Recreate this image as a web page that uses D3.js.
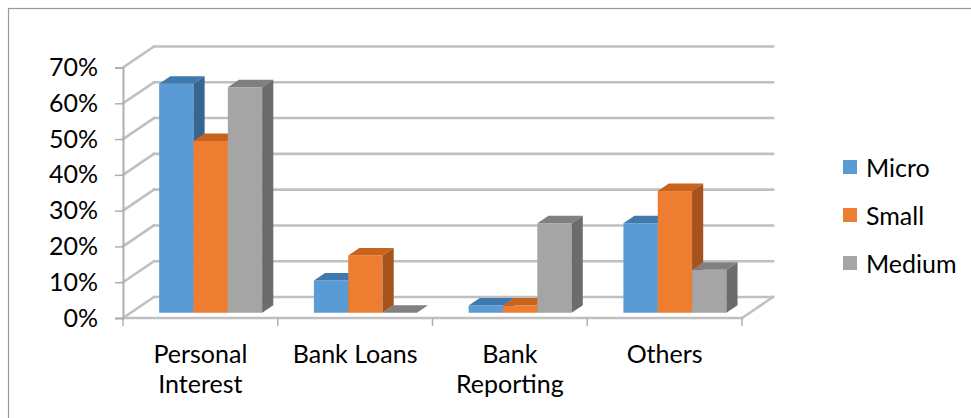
<!DOCTYPE html>
<html>
<head>
<meta charset="utf-8">
<script src="https://cdn.jsdelivr.net/npm/d3@7"></script>
<style>
  html, body { margin: 0; padding: 0; background: #fff; }
  svg { display: block; }
  text { font-family: Lato, "Open Sans", sans-serif; fill: #000; }
</style>
</head>
<body>
<svg id="chart" width="971" height="418"></svg>
<script>
// Survey shares by enterprise size
const categories = ["Personal Interest", "Bank Loans", "Bank Reporting", "Others"];
const categoryLines = [["Personal", "Interest"], ["Bank Loans"], ["Bank", "Reporting"], ["Others"]];
const seriesNames = ["Micro", "Small", "Medium"];
const micro  = [0.64, 0.09, 0.02, 0.25];
const small  = [0.48, 0.16, 0.02, 0.34];
const medium = [0.63, 0.00, 0.25, 0.12];
const yTicks = [0, 0.1, 0.2, 0.3, 0.4, 0.5, 0.6, 0.7];

const seriesValues = [micro, small, medium];
const faceColors = {
  Micro:  { front: "#5b9bd5", top: "#4079ad", side: "#386590" },
  Small:  { front: "#ed7d31", top: "#c8621c", side: "#a5531c" },
  Medium: { front: "#a5a5a5", top: "#808080", side: "#6c6c6c" }
};

const svg = d3.select("#chart");
const FONT = 25;

// Oblique projection: depth runs up and to the right
const DX = 31, DY = -21;
const barF0 = 0.25, barF1 = 0.61;

const x = d3.scaleBand().domain(categories).range([123, 742]);
const y = d3.scaleLinear().domain([0, 0.7]).range([318, 67.5]);
const bw = x.bandwidth();
const inner = d3.scaleBand().domain(seriesNames)
  .range([bw * 0.1835, bw * 0.849]);

// Outer frame
svg.append("rect")
  .attr("x", 8.5).attr("y", 8.5)
  .attr("width", 1100).attr("height", 600)
  .attr("fill", "none").attr("stroke", "#9a9a9a").attr("stroke-width", 1.2);

const gridColor = "#c0c0c0";
const grid = svg.append("g")
  .attr("stroke", gridColor).attr("stroke-width", 2.6)
  .attr("fill", "none").attr("stroke-linecap", "square");

const [xMin, xMax] = x.range();

// Back wall gridlines and left wall diagonals
yTicks.forEach(t => {
  grid.append("line")
    .attr("x1", xMin + DX).attr("y1", y(t) + DY)
    .attr("x2", xMax + DX).attr("y2", y(t) + DY);
  grid.append("line")
    .attr("x1", xMin).attr("y1", y(t))
    .attr("x2", xMin + DX).attr("y2", y(t) + DY);
});

// Floor front edge and right edge
grid.append("line")
  .attr("x1", xMin).attr("y1", y(0))
  .attr("x2", xMax).attr("y2", y(0));
grid.append("line")
  .attr("x1", xMax).attr("y1", y(0))
  .attr("x2", xMax + DX).attr("y2", y(0) + DY);

// Vertical axis on the front-left edge
const axisColor = "#b0b0b0";
const yAxis = svg.append("g")
  .attr("transform", `translate(${xMin},0)`)
  .call(d3.axisLeft(y).tickValues(yTicks).tickFormat(d3.format(".0%"))
    .tickSize(8).tickPadding(17));
yAxis.select(".domain").attr("stroke", axisColor).attr("stroke-width", 2);
yAxis.selectAll(".tick line").attr("stroke", axisColor).attr("stroke-width", 1.5);
yAxis.selectAll(".tick text")
  .attr("font-size", FONT).attr("fill", "#000")
  .attr("font-family", "Lato, 'Open Sans', sans-serif");

// Category ticks below the floor
const catEdges = categories.map(c => x(c)).concat([xMax]);
svg.append("g").selectAll("line").data(catEdges).join("line")
  .attr("x1", d => d).attr("x2", d => d)
  .attr("y1", y(0)).attr("y2", y(0) + 8)
  .attr("stroke", axisColor).attr("stroke-width", 1.5);

// Category labels
const catLabels = svg.append("g");
categories.forEach((c, i) => {
  const t = catLabels.append("text")
    .attr("x", x(c) + bw / 2)
    .attr("y", 363)
    .attr("text-anchor", "middle")
    .attr("font-size", FONT);
  categoryLines[i].forEach((line, k) => {
    t.append("tspan")
      .attr("x", x(c) + bw / 2)
      .attr("dy", k === 0 ? 0 : 30)
      .text(line);
  });
});

// 3D bars, drawn left to right so nearer faces overlap
const bars = svg.append("g");
const pt = (px, py) => `${px},${py}`;
categories.forEach((c, i) => {
  seriesNames.forEach((s, j) => {
    const v = seriesValues[j][i];
    const x0 = x(c) + inner(s);
    const w = inner.bandwidth();
    const col = faceColors[s];
    const yt = y(v), yb = y(0);
    const fx0 = x0 + DX * barF0, fx1 = x0 + DX * barF1;
    const dy0 = DY * barF0, dy1 = DY * barF1;
    const g = bars.append("g");
    // front
    g.append("rect")
      .attr("x", fx0).attr("y", yt + dy0)
      .attr("width", w).attr("height", Math.max(0, yb - yt))
      .attr("fill", col.front);
    // side
    g.append("polygon")
      .attr("points", [
        pt(fx0 + w, yt + dy0), pt(fx1 + w, yt + dy1),
        pt(fx1 + w, yb + dy1), pt(fx0 + w, yb + dy0)
      ].join(" "))
      .attr("fill", col.side);
    // top
    g.append("polygon")
      .attr("points", [
        pt(fx0, yt + dy0), pt(fx0 + w, yt + dy0),
        pt(fx1 + w, yt + dy1), pt(fx1, yt + dy1)
      ].join(" "))
      .attr("fill", col.top);
  });
});

// Legend
const legend = svg.append("g");
const legendY = d3.scalePoint().domain(seriesNames).range([167, 263]);
seriesNames.forEach(s => {
  legend.append("rect")
    .attr("x", 843).attr("y", legendY(s) - 7)
    .attr("width", 14).attr("height", 14)
    .attr("fill", faceColors[s].front);
  legend.append("text")
    .attr("x", 866).attr("y", legendY(s))
    .attr("dominant-baseline", "central")
    .attr("font-size", FONT)
    .text(s);
});
</script>
</body>
</html>
